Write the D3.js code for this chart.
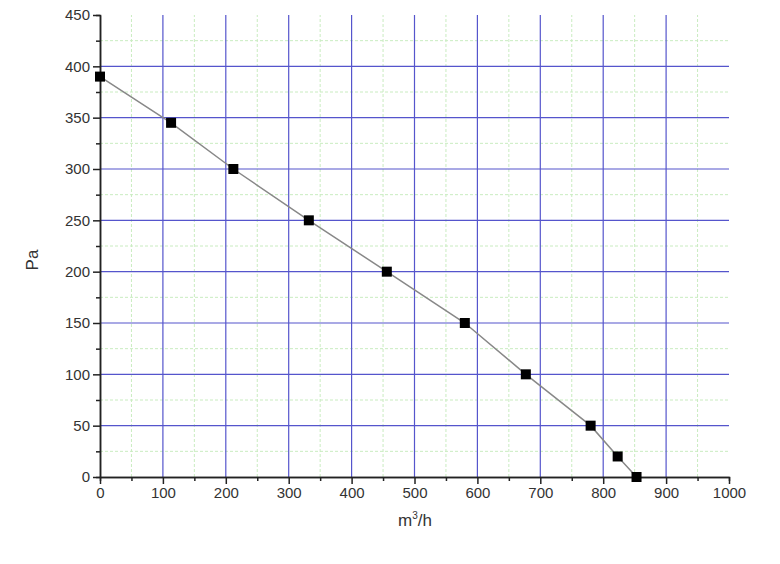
<!DOCTYPE html><html><head><meta charset="utf-8"><script src="https://cdn.jsdelivr.net/npm/d3@7"></script>
<style>body{margin:0;background:#fff}text{font-family:Arial,"Liberation Sans",sans-serif}</style></head><body><svg width="780" height="564"></svg><script>
const flow=[0,113,212,332,456,580,677,780,823,853];
const pressure=[390,345,300,250,200,150,100,50,20,0];
const xTicks=[0,100,200,300,400,500,600,700,800,900,1000];
const yTicks=[0,50,100,150,200,250,300,350,400,450];
const svg=d3.select("svg");
const x=d3.scaleLinear().domain([0,1000]).range([100,729]);
const y=d3.scaleLinear().domain([0,450]).range([477,15]);
const g=svg.append("g");
d3.range(50,1000,100).forEach(v=>g.append("line").attr("x1",x(v)).attr("x2",x(v)).attr("y1",y(0)).attr("y2",y(450)).attr("stroke","#c9ecc0").attr("stroke-dasharray","3,2"));
d3.range(25,450,50).forEach(v=>g.append("line").attr("y1",y(v)).attr("y2",y(v)).attr("x1",x(0)).attr("x2",x(1000)).attr("stroke","#c9ecc0").attr("stroke-dasharray","3,2"));
xTicks.slice(1,-1).forEach(v=>g.append("line").attr("x1",x(v)).attr("x2",x(v)).attr("y1",y(0)).attr("y2",y(450)).attr("stroke","#5555cc").attr("stroke-width",1.2));
yTicks.slice(1,-1).forEach(v=>g.append("line").attr("y1",y(v)).attr("y2",y(v)).attr("x1",x(0)).attr("x2",x(1000)).attr("stroke","#5555cc").attr("stroke-width",1.2));
const xa=svg.append("g").attr("transform",`translate(0,${y(0)})`).call(d3.axisBottom(x).tickValues(xTicks).tickSize(7).tickSizeOuter(0).tickFormat(d3.format("d")));
xa.append("g").call(d3.axisBottom(x).tickValues(d3.range(50,1000,100)).tickSize(4).tickFormat(""));
const ya=svg.append("g").attr("transform",`translate(${x(0)},0)`).call(d3.axisLeft(y).tickValues(yTicks).tickSize(7).tickSizeOuter(0).tickFormat(d3.format("d")));
ya.append("g").call(d3.axisLeft(y).tickValues(d3.range(25,450,50)).tickSize(4).tickFormat(""));
svg.selectAll(".tick text").attr("font-size",15).attr("fill","#333");
svg.selectAll(".domain,.tick line").attr("stroke","#222").attr("stroke-width",1.5);
const pts=flow.map((f,i)=>[f,pressure[i]]);
svg.append("path").attr("d",d3.line().x(d=>x(d[0])).y(d=>y(d[1]))(pts)).attr("fill","none").attr("stroke","#888").attr("stroke-width",1.5);
svg.selectAll("rect.p").data(pts).join("rect").attr("x",d=>x(d[0])-5).attr("y",d=>y(d[1])-5).attr("width",10).attr("height",10).attr("fill","#000");
svg.append("text").attr("x",415).attr("y",526).attr("text-anchor","middle").attr("font-size",17).attr("fill","#333").html('m<tspan dy="-7" font-size="10">3</tspan><tspan dy="7">/h</tspan>');
svg.append("text").attr("transform","translate(38,260) rotate(-90)").attr("text-anchor","middle").attr("font-size",17).attr("fill","#333").text("Pa");
</script></body></html>
